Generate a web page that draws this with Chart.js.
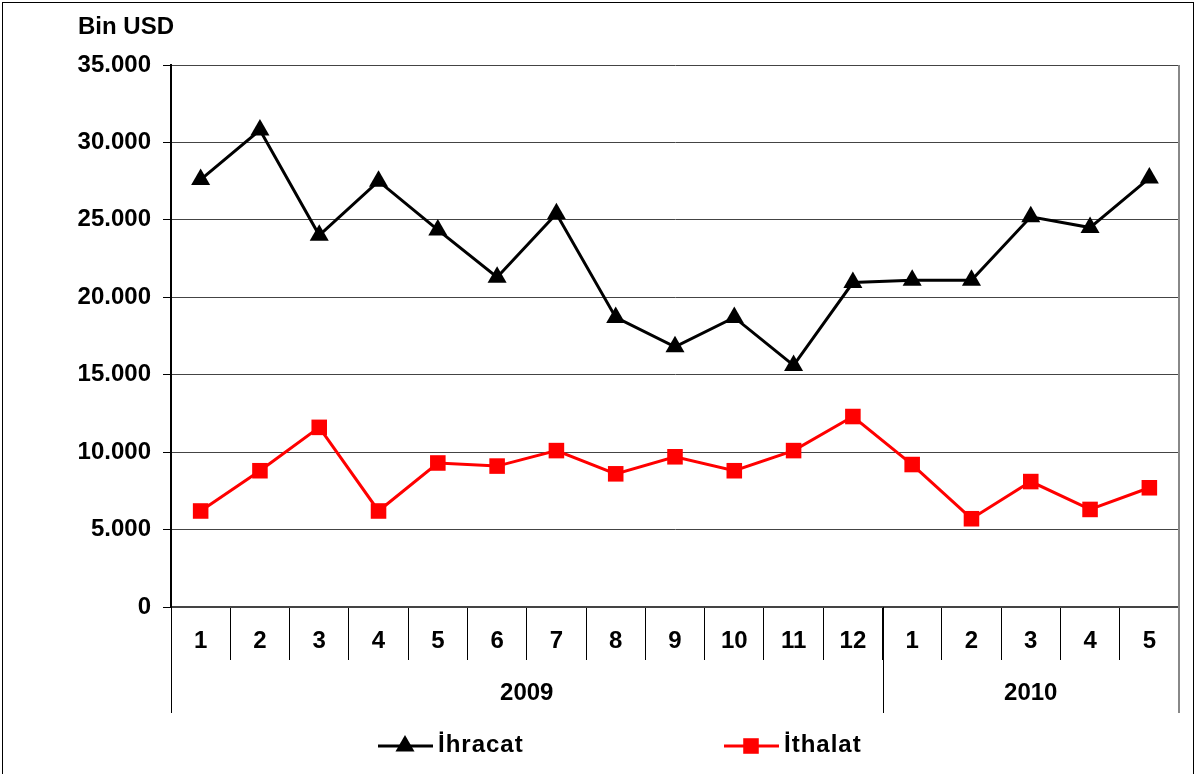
<!DOCTYPE html>
<html>
<head>
<meta charset="utf-8">
<script src="https://cdn.jsdelivr.net/npm/chart.js@4.4.1/dist/chart.umd.min.js"></script>
<style>
  html, body { margin: 0; padding: 0; background: #fff; }
  #wrap { width: 1197px; height: 774px; }
</style>
</head>
<body>
<div id="wrap"><canvas id="tradeChart" width="1197" height="774"></canvas></div>
<script>
// months on the axis, grouped by year
const months = ['1', '2', '3', '4', '5', '6', '7', '8', '9', '10', '11', '12', '1', '2', '3', '4', '5'];
const years = ['2009', '2010'];
const monthsPerYear = [12, 5];

// values in thousand USD
const ihracat = [27600, 30800, 24000, 27500, 24350, 21300, 25400, 18700, 16800, 18700, 15600, 20950, 21100, 21100, 25200, 24500, 27700];
const ithalat = [6200, 8800, 11600, 6200, 9300, 9100, 10100, 8600, 9700, 8800, 10100, 12300, 9200, 5700, 8100, 6300, 7700];

const unitLabel = 'Bin USD';
const FONT = '"Liberation Sans", Arial, sans-serif';

function formatThousands(v) {
    return String(v).replace(/\B(?=(\d{3})+(?!\d))/g, '.');
}

// draws the year row, the frame, the unit label and the legend
const extrasPlugin = {
    id: 'extras',
    afterDraw(chart) {
        const ctx = chart.ctx;
        const x = chart.scales.x;
        const area = chart.chartArea;
        const half = (x.getPixelForValue(1) - x.getPixelForValue(0)) / 2;
        const rowTop = area.bottom;
        const rowBottom = area.bottom + 106;

        ctx.save();
        // right border of the plot
        ctx.strokeStyle = '#888';
        ctx.lineWidth = 2;
        ctx.beginPath();
        ctx.moveTo(area.right, area.top);
        ctx.lineTo(area.right, rowBottom);
        ctx.stroke();

        // year group separators + labels
        ctx.strokeStyle = '#000';
        ctx.lineWidth = 1;
        ctx.fillStyle = '#000';
        ctx.font = 'bold 24px ' + FONT;
        ctx.textAlign = 'center';
        ctx.textBaseline = 'middle';
        let start = 0;
        years.forEach((yr, i) => {
            const end = start + monthsPerYear[i] - 1;
            const left = x.getPixelForValue(start) - half;
            const right = x.getPixelForValue(end) + half;
            ctx.beginPath();
            ctx.moveTo(Math.round(left) + 0.5, rowTop);
            ctx.lineTo(Math.round(left) + 0.5, rowBottom);
            ctx.stroke();
            ctx.fillText(yr, (left + right) / 2, rowTop + 86);
            start = end + 1;
        });

        // unit label
        ctx.textAlign = 'left';
        ctx.fillText(unitLabel, 78, 27);

        // legend
        const legendY = 746;
        const legendX = [378, 724];
        chart.data.datasets.forEach((ds, i) => {
            const lx = legendX[i];
            ctx.strokeStyle = ds.borderColor;
            ctx.lineWidth = 3;
            ctx.beginPath();
            ctx.moveTo(lx, legendY);
            ctx.lineTo(lx + 55, legendY);
            ctx.stroke();
            ctx.fillStyle = ds.backgroundColor;
            Chart.helpers.drawPoint(ctx, {
                pointStyle: ds.pointStyle,
                radius: ds.pointRadius,
                borderWidth: 0
            }, lx + 27, legendY);
            ctx.fillStyle = '#000';
            ctx.textAlign = 'left';
            ctx.letterSpacing = '1px';
            ctx.fillText(ds.label, lx + 60, legendY - 1);
            ctx.letterSpacing = '0px';
        });

        // outer frame
        ctx.strokeStyle = '#000';
        ctx.lineWidth = 1;
        ctx.strokeRect(2.5, 2.5, 1191, 780);
        ctx.restore();
    }
};

const ctx = document.getElementById('tradeChart').getContext('2d');
new Chart(ctx, {
    type: 'line',
    data: {
        labels: months,
        datasets: [
            {
                label: 'İhracat',
                data: ihracat,
                borderColor: '#000000',
                backgroundColor: '#000000',
                borderWidth: 3,
                pointStyle: 'triangle',
                pointRadius: 11,
                pointBorderWidth: 0,
                tension: 0
            },
            {
                label: 'İthalat',
                data: ithalat,
                borderColor: '#FF0000',
                backgroundColor: '#FF0000',
                borderWidth: 3,
                pointStyle: 'rect',
                pointRadius: 11,
                pointBorderWidth: 0,
                tension: 0
            }
        ]
    },
    options: {
        responsive: false,
        animation: false,
        devicePixelRatio: 1,
        layout: {
            padding: { top: 65, right: 18, bottom: 0, left: 0 }
        },
        plugins: {
            legend: { display: false },
            tooltip: { enabled: false }
        },
        scales: {
            x: {
                type: 'category',
                offset: true,
                afterFit: function(scale) { scale.height = 167; },
                grid: {
                    offset: true,
                    drawOnChartArea: false,
                    drawTicks: true,
                    tickLength: 53,
                    color: '#000',
                    lineWidth: 1
                },
                border: { display: true, color: '#444', width: 2 },
                ticks: {
                    autoSkip: false,
                    maxRotation: 0,
                    padding: -33,
                    color: '#000',
                    font: { family: FONT, size: 24, weight: 'bold' }
                }
            },
            y: {
                min: 0,
                max: 35000,
                afterFit: function(scale) { scale.width = 171; },
                grid: {
                    color: '#444',
                    lineWidth: 1,
                    tickLength: 8,
                    tickColor: '#000'
                },
                border: { display: true, color: '#000', width: 2 },
                ticks: {
                    stepSize: 5000,
                    padding: 12,
                    color: '#000',
                    font: { family: FONT, size: 24, weight: 'bold' },
                    callback: function(value) { return formatThousands(value); }
                }
            }
        }
    },
    plugins: [extrasPlugin]
});
</script>
</body>
</html>
